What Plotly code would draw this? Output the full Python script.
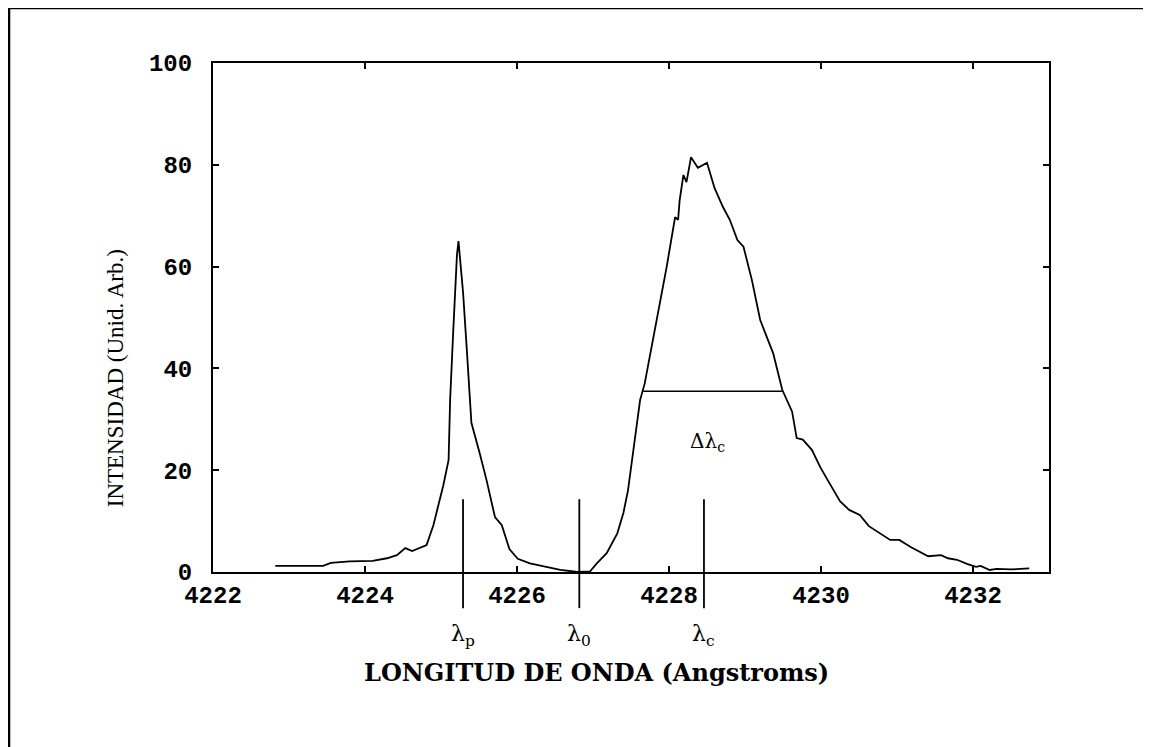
import plotly.graph_objects as go

# ---- data ----
wavelength = [4222.82, 4223.45, 4223.55, 4223.67, 4223.80, 4224.10, 4224.29, 4224.42, 4224.53,
              4224.62, 4224.81, 4224.90, 4225.03, 4225.10, 4225.12, 4225.16, 4225.21, 4225.23,
              4225.29, 4225.34, 4225.40, 4225.51, 4225.60, 4225.71, 4225.80, 4225.90, 4226.01,
              4226.17, 4226.39, 4226.57, 4226.80, 4226.96, 4227.05, 4227.18, 4227.32, 4227.40,
              4227.46, 4227.53, 4227.62, 4227.68, 4227.77, 4227.86, 4227.97, 4228.08, 4228.12,
              4228.14, 4228.19, 4228.23, 4228.29, 4228.38, 4228.50, 4228.60, 4228.71, 4228.80,
              4228.90, 4228.98, 4229.09, 4229.20, 4229.30, 4229.37, 4229.49, 4229.62, 4229.68,
              4229.76, 4229.88, 4229.99, 4230.09, 4230.25, 4230.37, 4230.51, 4230.63, 4230.76,
              4230.91, 4231.03, 4231.18, 4231.41, 4231.58, 4231.67, 4231.79, 4231.92, 4232.04,
              4232.10, 4232.22, 4232.31, 4232.50, 4232.74]
intensity = [1.2, 1.2, 1.8, 2.0, 2.1, 2.2, 2.7, 3.3, 4.7,
             4.1, 5.3, 9.2, 17.0, 22.0, 33.8, 47.0, 62.3, 65.0,
             55.0, 43.6, 29.3, 23.3, 18.0, 10.8, 9.2, 4.5, 2.6,
             1.7, 1.0, 0.4, 0.0, 0.1, 1.7, 3.7, 7.6, 11.6,
             16.0, 24.0, 33.8, 37.0, 44.0, 51.5, 60.0, 69.7, 69.2,
             73.0, 78.0, 76.6, 81.5, 79.4, 80.4, 75.4, 71.7, 69.2,
             65.2, 63.9, 57.4, 49.5, 45.6, 43.0, 35.8, 31.5, 26.3,
             26.0, 24.0, 20.6, 18.0, 13.9, 12.2, 11.2, 9.0, 7.7,
             6.3, 6.3, 4.9, 3.1, 3.3, 2.7, 2.4, 1.6, 1.0,
             1.2, 0.4, 0.6, 0.5, 0.7]

marker_names = ["p", "0", "c"]
marker_wavelengths = [4225.29, 4226.82, 4228.46]

fwhm_level = 35.5
fwhm_left = 4227.66
fwhm_right = 4229.49
delta_label_x = 4228.5
delta_label_y = 25.5

x_ticks = [4222, 4224, 4226, 4228, 4230, 4232]
y_ticks = [0, 20, 40, 60, 80, 100]

fig = go.Figure()
fig.add_trace(go.Scatter(x=wavelength, y=intensity, mode="lines",
                         line=dict(color="black", width=1.8), showlegend=False,
                         hoverinfo="skip"))

shapes = []
# vertical marker lines crossing the x axis
for xv in marker_wavelengths:
    shapes.append(dict(type="line", xref="x", yref="paper", x0=xv, x1=xv,
                       y0=-0.071, y1=0.143, line=dict(color="black", width=1.8)))
# FWHM horizontal line
shapes.append(dict(type="line", xref="x", yref="y", x0=fwhm_left, x1=fwhm_right,
                   y0=fwhm_level, y1=fwhm_level, line=dict(color="black", width=1.5)))
# outer page frame (left and top edges)
shapes.append(dict(type="line", xref="paper", yref="paper", x0=-0.2440, x1=-0.2440,
                   y0=-0.4, y1=1.108, line=dict(color="black", width=2.5)))
shapes.append(dict(type="line", xref="paper", yref="paper", x0=-0.2440, x1=1.3,
                   y0=1.108, y1=1.108, line=dict(color="black", width=2.5)))

annotations = []
for name, xv in zip(marker_names, marker_wavelengths):
    annotations.append(dict(xref="x", yref="paper", x=xv, y=-0.125, showarrow=False,
                            text=f"λ<sub>{name}</sub>", xanchor="center", yanchor="middle",
                            font=dict(family="DejaVu Serif", size=22, color="black")))
annotations.append(dict(xref="x", yref="y", x=delta_label_x, y=delta_label_y, showarrow=False,
                        text="Δλ<sub>c</sub>", xanchor="center", yanchor="middle",
                        font=dict(family="DejaVu Serif", size=20, color="black")))
annotations.append(dict(xref="paper", yref="paper", x=0.459, y=-0.198, showarrow=False,
                        text="LONGITUD DE ONDA (Angstroms)", xanchor="center", yanchor="middle",
                        font=dict(family="DejaVu Serif", size=24, color="black", weight="bold")))
annotations.append(dict(xref="paper", yref="paper", x=-0.117, y=0.381, showarrow=False,
                        text="INTENSIDAD (Unid. Arb.)", textangle=-90,
                        xanchor="center", yanchor="middle",
                        font=dict(family="Liberation Serif", size=23, color="black")))

axis_common = dict(showline=True, linecolor="black", linewidth=2, mirror="ticks",
                   ticks="inside", ticklen=6, tickwidth=1.5, tickcolor="black",
                   showgrid=False, zeroline=False,
                   tickfont=dict(family="Liberation Mono", size=24, color="black", weight="bold"))

fig.update_layout(
    width=1151, height=747,
    margin=dict(l=205, r=110, t=55, b=183),
    paper_bgcolor="white", plot_bgcolor="white",
    xaxis=dict(range=[4222, 4233], tickvals=x_ticks, ticklabelstandoff=0, **axis_common),
    yaxis=dict(range=[0, 100], tickvals=y_ticks, ticklabelstandoff=14, **axis_common),
    shapes=shapes, annotations=annotations,
)

fig.write_html("out.html")
